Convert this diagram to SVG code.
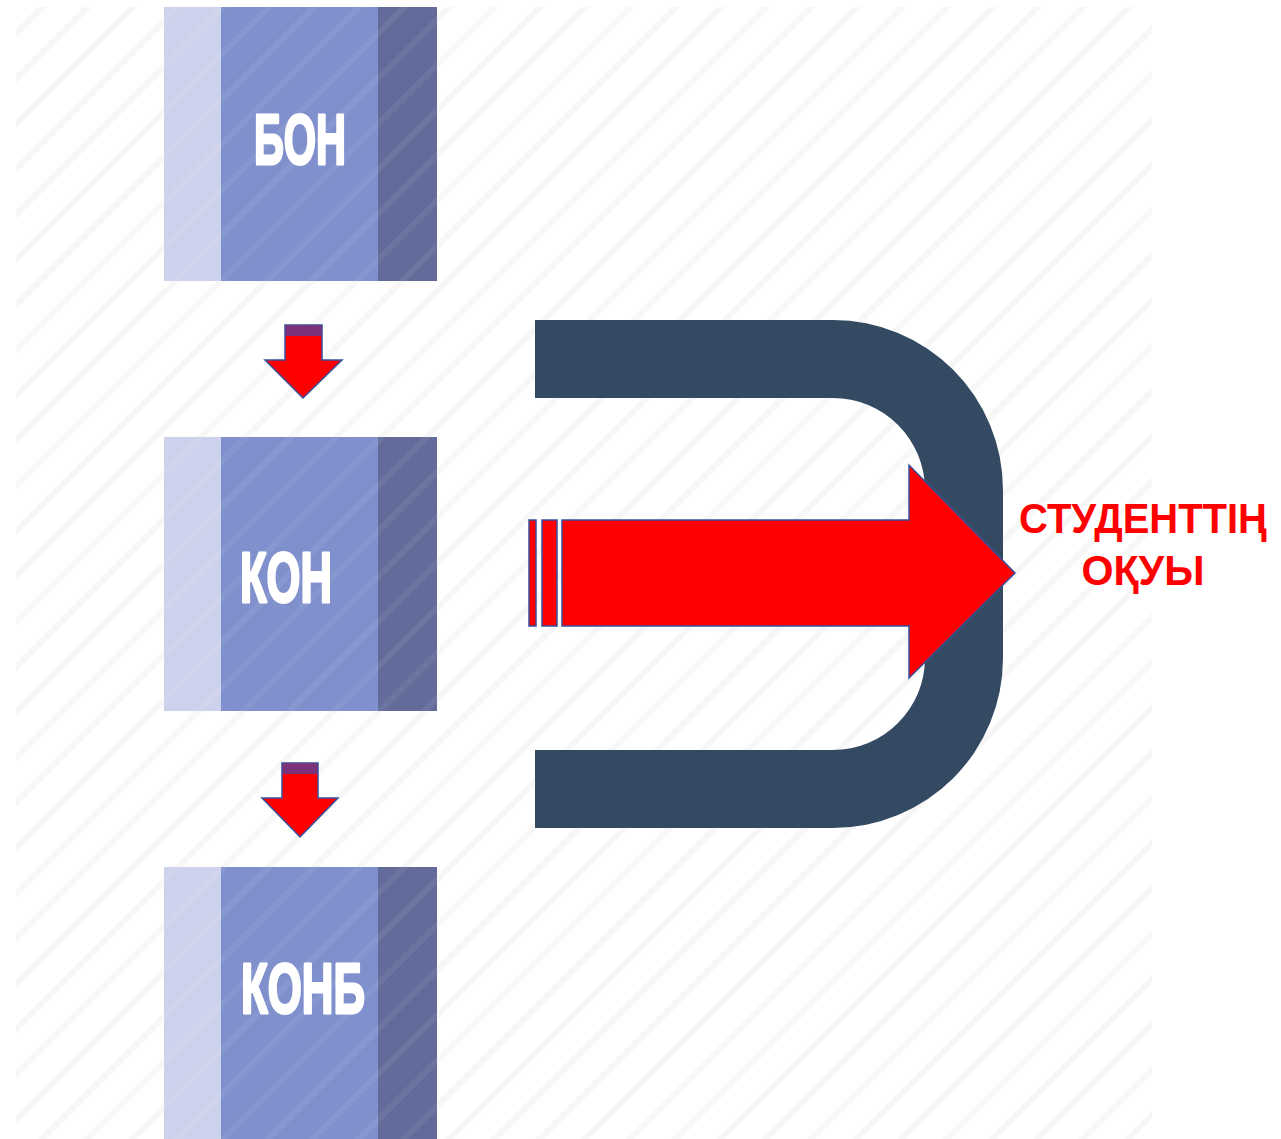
<svg xmlns="http://www.w3.org/2000/svg" width="1281" height="1139" viewBox="0 0 1281 1139">
<defs>
<pattern id="bgStripes" patternUnits="userSpaceOnUse" width="32" height="32" patternTransform="rotate(45)">
<rect x="0" y="0" width="6" height="32" fill="#f7f7f7"/>
</pattern>
<pattern id="blkStripes" patternUnits="userSpaceOnUse" width="32" height="32" patternTransform="rotate(45)">
<rect x="0" y="0" width="6" height="32" fill="#ffffff" fill-opacity="0.06"/>
</pattern>
<style>
.lite{fill:#cdd2ec}
.mid{fill:#8090cc}
.dark{fill:#636b9a}
.blk{font-family:"Liberation Sans","DejaVu Sans",sans-serif;font-weight:bold;font-size:70px;fill:#ffffff;stroke:#ffffff;stroke-width:3;stroke-linejoin:round;text-anchor:middle}
.red{fill:#ff0000;stroke:#3a4f9c;stroke-width:1.5}
.lbl{font-family:"Liberation Sans","Open Sans",sans-serif;font-weight:bold;font-size:43px;fill:#ff0000;text-anchor:middle}
</style>
</defs>
<rect width="1281" height="1139" fill="#ffffff"/>
<rect x="16" y="7" width="1136" height="1132" fill="url(#bgStripes)"/>

<g id="node-bon">
<rect class="lite" x="164" y="7" width="57" height="274"/>
<rect class="mid" x="221" y="7" width="157" height="274"/>
<rect class="dark" x="378" y="7" width="59" height="274"/>
<rect x="164" y="7" width="273" height="274" fill="url(#blkStripes)"/>
<text class="blk" x="300" y="164" textLength="92" lengthAdjust="spacingAndGlyphs">БОН</text>
</g>

<g id="node-kon">
<rect class="lite" x="164" y="437" width="57" height="274"/>
<rect class="mid" x="221" y="437" width="157" height="274"/>
<rect class="dark" x="378" y="437" width="59" height="274"/>
<rect x="164" y="437" width="273" height="274" fill="url(#blkStripes)"/>
<text class="blk" x="286" y="602" textLength="92" lengthAdjust="spacingAndGlyphs">КОН</text>
</g>

<g id="node-konb">
<rect class="lite" x="164" y="867" width="57" height="272"/>
<rect class="mid" x="221" y="867" width="157" height="272"/>
<rect class="dark" x="378" y="867" width="59" height="272"/>
<rect x="164" y="867" width="273" height="272" fill="url(#blkStripes)"/>
<text class="blk" x="303" y="1013" textLength="124" lengthAdjust="spacingAndGlyphs">КОНБ</text>
</g>

<g id="node-magnet">
<path d="M535,320 H833 A170,170 0 0 1 1003,490 V658 A170,170 0 0 1 833,828 H535 V750 H833 A92,92 0 0 0 925,658 V490 A92,92 0 0 0 833,398 H535 Z" fill="#344a62"/>
</g>

<g id="node-label">
<text class="lbl" x="1143" y="533" textLength="248" lengthAdjust="spacingAndGlyphs">СТУДЕНТТІҢ</text>
<text class="lbl" x="1143" y="585" textLength="123" lengthAdjust="spacingAndGlyphs">ОҚУЫ</text>
</g>

<g id="connectors">
<path class="red" d="M285,325 H322 V360 H342 L303,398 L265,360 H285 Z"/>
<rect x="285" y="326" width="37" height="10" fill="#5a3f9a" fill-opacity="0.8"/>
<path class="red" d="M282,763 H318 V798 H338 L300,837 L262,798 H282 Z"/>
<rect x="282" y="764" width="36" height="10" fill="#5a3f9a" fill-opacity="0.8"/>
<rect class="red" x="529" y="520" width="7" height="106"/>
<rect class="red" x="542" y="520" width="15" height="106"/>
<path class="red" d="M562,520 H909 V465 L1015,573 L909,678 V626 H562 Z"/>
</g>
</svg>
